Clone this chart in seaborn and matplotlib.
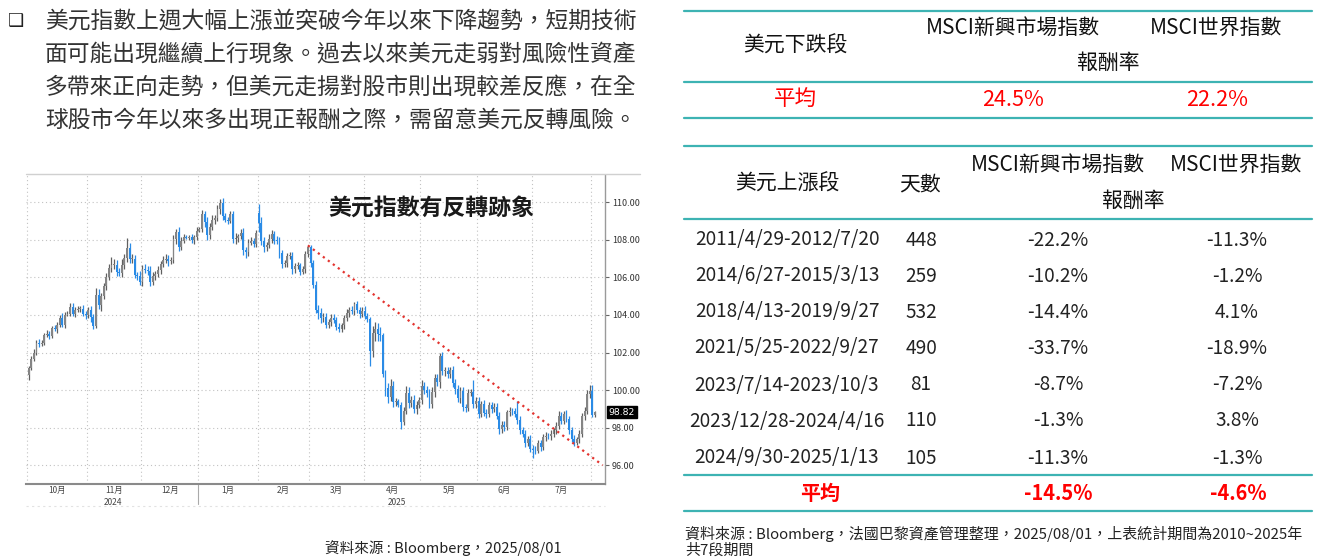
import numpy as np
import pandas as pd
import matplotlib
matplotlib.use("Agg")
import matplotlib.pyplot as plt
from matplotlib.lines import Line2D
from matplotlib.ticker import FormatStrFormatter
import seaborn as sns

# ---- 美元指數 日K 2024/10/01 ~ 2025/08/04 (收盤, 由圖估讀) ----
close = [
    # 10月
    101.19, 101.68, 101.99, 102.52, 102.47, 102.53, 102.92, 102.99, 102.90, 103.29,
    103.24, 103.49, 103.83, 103.49, 104.02, 104.07, 104.41, 104.06, 104.26, 104.32,
    104.33, 104.07, 103.99,
    # 11月
    104.28, 103.90, 103.43, 105.08, 104.51, 104.99, 105.53, 106.01, 106.48, 106.68,
    106.68, 106.28, 106.21, 106.68, 107.01, 107.55, 106.99, 107.00, 106.12, 106.08,
    105.74,
    # 12月
    106.44, 106.38, 106.35, 105.73, 106.06, 106.17, 106.40, 106.70, 106.95, 107.00,
    106.85, 106.95, 108.05, 108.40, 107.62, 107.95, 108.15, 108.12, 108.13, 108.00,
    108.13, 108.49,
    # 1月
    108.60, 109.39, 108.95, 108.26, 108.68, 109.05, 109.17, 109.65, 109.97, 109.25,
    109.08, 109.02, 109.35, 108.05, 108.08, 108.18, 108.38, 107.45, 107.35, 107.85,
    107.92, 107.80, 108.37,
    # 2月
    108.92, 107.95, 107.60, 107.72, 108.04, 108.32, 107.96, 107.94, 107.30, 106.71,
    106.75, 107.14, 107.16, 106.43, 106.62, 106.64, 106.31, 106.42, 107.24, 107.61,
    # 3月
    106.76, 105.60, 104.28, 104.09, 103.84, 103.90, 103.48, 103.61, 103.83, 103.72,
    103.38, 103.25, 103.44, 103.85, 104.09, 104.26, 104.22, 104.56, 104.28, 104.04,
    104.21,
    # 4月
    103.93, 103.80, 102.07, 103.02, 103.26, 102.98, 102.92, 100.88, 100.10, 99.63,
    100.23, 99.37, 99.40, 99.23, 98.28, 98.91, 99.85, 99.32, 99.47, 98.99,
    99.21, 99.47,
    # 5月
    100.24, 100.03, 99.83, 99.24, 99.90, 100.64, 100.42, 101.79, 101.00, 101.02,
    100.85, 101.09, 100.37, 100.05, 99.56, 99.95, 99.11, 99.05, 99.87, 99.88,
    99.27, 99.44,
    # 6月
    98.70, 99.24, 98.80, 98.74, 99.19, 98.98, 99.10, 98.64, 97.92, 98.15,
    98.03, 98.81, 98.91, 98.86, 98.71, 98.42, 97.86, 97.67, 97.19, 97.40,
    96.88,
    # 7月
    96.80, 96.78, 97.18, 96.97, 97.48, 97.55, 97.53, 97.65, 97.85, 98.08,
    98.62, 98.38, 98.73, 98.47, 97.86, 97.40, 97.20, 97.37, 97.65, 98.63,
    98.88, 99.80, 99.97,
    # 8月
    98.69, 98.82,
]

# 開盤 = 前一日收盤 (美元指數近 24 小時交易), 跳空的日子另記
first_open = 100.78
open_gaps = {"2025-02-03": 109.45}

# 上影線 / 下影線長度
wick_hi = [
    .10, .15, .20, .12, .18, .15, .10, .20, .15, .12, .20, .15, .18, .25, .12, .15, .20, .25, .15, .18, .12, .20, .15,
    .15, .20, .15, .35, .30, .20, .15, .20, .25, .39, .30, .25, .20, .30, .25, .52, .30, .25, .20, .15, .25,
    .20, .25, .20, .25, .20, .15, .20, .15, .20, .25, .20, .15, .20, .15, .30, .20, .15, .10, .15, .20, .15, .20,
    .10, .20, .15, .25, .20, .25, .15, .20, .20, .25, .20, .15, .20, .20, .30, .15, .20, .25, .15, .20, .25, .20, .15,
    .43, .30, .20, .15, .25, .20, .15, .25, .20, .15, .20, .15, .20, .20, .15, .20, .15, .20, .15, .10,
    .10, .15, .20, .25, .30, .20, .20, .15, .20, .20, .15, .20, .15, .15, .20, .15, .20, .15, .20, .15, .20,
    .25, .20, .10, .40, .35, .30, .40, .10, .20, .30, .35, .25, .20, .15, .15, .20, .35, .30, .20, .25, .20, .15,
    .30, .20, .20, .25, .25, .20, .20, .20, .25, .20, .20, .15, .20, .20, .20, .20, .20, .15, .20, .20, .66, .20,
    .20, .20, .25, .20, .15, .20, .20, .20, .20, .20, .20, .15, .20, .15, .20, .71, .20, .20, .20, .15, .20,
    .20, .20, .15, .15, .20, .20, .15, .20, .15, .20, .25, .20, .15, .20, .15, .20, .20, .15, .20, .15, .20, .20, .30,
    .29, .08,
]
wick_lo = [
    .25, .12, .15, .10, .18, .12, .15, .10, .20, .15, .10, .18, .12, .15, .20, .10, .15, .12, .18, .10, .15, .12, .20,
    .15, .25, .20, .10, .20, .30, .15, .20, .15, .20, .25, .20, .15, .20, .25, .20, .20, .25, .15, .20, .15,
    .20, .15, .20, .20, .15, .20, .15, .20, .15, .20, .25, .15, .20, .25, .20, .15, .10, .10, .15, .15, .20, .15,
    .10, .20, .25, .25, .20, .15, .20, .15, .25, .20, .15, .20, .15, .20, .25, .20, .15, .25, .30, .20, .15, .20, .20,
    .50, .20, .25, .20, .15, .20, .20, .15, .25, .20, .15, .20, .15, .25, .20, .15, .20, .15, .20, .15,
    .20, .15, .20, .30, .25, .20, .20, .15, .20, .15, .20, .15, .15, .20, .15, .20, .15, .20, .15, .20, .15,
    .15, .20, .80, .30, .40, .35, .30, .20, .40, .30, .20, .25, .20, .15, .36, .15, .20, .25, .20, .20, .25, .15,
    .20, .25, .20, .20, .20, .25, .20, .30, .20, .25, .20, .20, .20, .25, .20, .25, .20, .20, .15, .20, .20, .20,
    .20, .15, .20, .20, .15, .20, .15, .20, .25, .20, .20, .15, .20, .20, .15, .20, .20, .15, .20, .15, .20,
    .42, .20, .15, .20, .15, .20, .15, .20, .15, .20, .15, .20, .20, .15, .20, .15, .20, .15, .20, .15, .20, .15, .20,
    .10, .10,
]

# 下降趨勢線 (日期, 指數)
trend_dates = ["2025-02-28", "2025-08-07"]
trend_vals = [107.7, 96.0]

y_ticks = [96, 98, 100, 102, 104, 106, 108, 110]

# ---- 表格 ----
down_head = ["美元下跌段", "MSCI新興市場指數", "MSCI世界指數", "報酬率"]
down_avg = ["平均", "24.5%", "22.2%"]

up_head = ["美元上漲段", "天數", "MSCI新興市場指數", "MSCI世界指數", "報酬率"]
periods = ["2011/4/29-2012/7/20", "2014/6/27-2015/3/13", "2018/4/13-2019/9/27",
           "2021/5/25-2022/9/27", "2023/7/14-2023/10/3", "2023/12/28-2024/4/16",
           "2024/9/30-2025/1/13"]
days = [448, 259, 532, 490, 81, 110, 105]
em_ret = ["-22.2%", "-10.2%", "-14.4%", "-33.7%", "-8.7%", "-1.3%", "-11.3%"]
world_ret = ["-11.3%", "-1.2%", "4.1%", "-18.9%", "-7.2%", "3.8%", "-1.3%"]
up_avg = ["平均", "-14.5%", "-4.6%"]

para = ["美元指數上週大幅上漲並突破今年以來下降趨勢，短期技術",
        "面可能出現繼續上行現象。過去以來美元走弱對風險性資產",
        "多帶來正向走勢，但美元走揚對股市則出現較差反應，在全",
        "球股市今年以來多出現正報酬之際，需留意美元反轉風險。"]

# ---------------------------------------------------------------
sns.set_theme(style="white")
plt.rcParams['font.family'] = ['Noto Sans CJK TC', 'DejaVu Sans']

W, H = 1319, 560
fig = plt.figure(figsize=(W / 100, H / 100), dpi=100)


def fx(x):
    return x / W


def fy(y):
    return 1 - y / H


dates = pd.bdate_range("2024-10-01", "2025-08-04")
assert len(dates) == len(close) == len(wick_hi) == len(wick_lo)

c = np.array(close)
o = np.r_[first_open, c[:-1]]
for d, v in open_gaps.items():
    o[dates.get_loc(pd.Timestamp(d))] = v
hi = np.maximum(o, c) + np.array(wick_hi)
lo = np.minimum(o, c) - np.array(wick_lo)
up = c >= o
x = np.arange(len(c))

# ---- 左側文字 ----
fig.text(fx(8), fy(21), "❑", fontsize=13, family=['DejaVu Sans'], va='center', color='#222')
for i, line in enumerate(para):
    fig.text(fx(45), fy(21 + i * 33), line, fontsize=16.4, va='center', color='#333')

# ---- K線圖 ----
ax = fig.add_axes([fx(26), fy(484), fx(605) - fx(26), fy(175) - fy(484)])
GRAY, BLUE = '#858585', '#2a8be6'
ax.vlines(x, lo, hi, colors=np.where(up, '#606060', BLUE), lw=0.9, zorder=3)
ax.bar(x, np.maximum(np.abs(c - o), 0.05), bottom=np.minimum(o, c), width=0.72,
       color=np.where(up, GRAY, BLUE), lw=0, zorder=4)

t_idx = [np.busday_count("2024-10-01", d) for d in trend_dates]
sns.lineplot(x=t_idx, y=trend_vals, ax=ax, color='#e3342f', lw=1.6,
             linestyle=(0, (1, 1.8)), zorder=5)

ax.set_xlim(-1.05, 222.9)
ax.set_ylim(95.0, 111.45)

# 月份
month_key = dates.to_period('M')
bounds, mids, labels = [], [], []
for per in month_key.unique():
    idx = np.where(month_key == per)[0]
    bounds.append(idx[0] - 0.5)
    if len(idx) > 5:
        mids.append((idx[0] + idx[-1]) / 2)
        labels.append(f"{per.month}月")
ax.set_xticks(mids)
ax.set_xticklabels(labels)
ax.set_xticks(bounds, minor=True)
ax.tick_params(axis='x', which='major', length=0, labelsize=6, labelcolor='#444', pad=1.5)
ax.tick_params(axis='x', which='minor', length=3, width=1, color='#444', direction='out')

ax.yaxis.tick_right()
ax.set_yticks(y_ticks)
ax.yaxis.set_major_formatter(FormatStrFormatter('%.2f'))
ax.tick_params(axis='y', length=3, width=0.8, color='#666', labelsize=6.5,
               labelcolor='#333', pad=2, direction='out')

ax.grid(False)
for b in bounds:
    ax.axvline(b, color='#c2c2c2', lw=0.8, linestyle=(0, (1, 2.5)), zorder=1)
for yv in y_ticks:
    ax.axhline(yv, color='#c2c2c2', lw=0.8, linestyle=(0, (1, 2.5)), zorder=1)

for s in ['left', 'top']:
    ax.spines[s].set_visible(False)
ax.spines['right'].set_color('#9a9a9a')
ax.spines['right'].set_linewidth(1)
ax.spines['bottom'].set_color('#8a8a8a')
ax.spines['bottom'].set_linewidth(1.5)

# 年份
years = dates.year
for yr in np.unique(years):
    idx = np.where(years == yr)[0]
    ax.text((idx[0] + idx[-1]) / 2, -0.06, str(yr), transform=ax.get_xaxis_transform(),
            ha='center', va='center', fontsize=6, color='#444')
jan = np.where(years == 2025)[0][0] - 0.5
ax.plot([jan, jan], [0, -0.065], transform=ax.get_xaxis_transform(), color='#aaaaaa',
        lw=0.8, clip_on=False)

# 最新值
ax.text(1.006, c[-1], f"{c[-1]:.2f}", transform=ax.get_yaxis_transform(), ha='left',
        va='center', fontsize=6.7, color='white', family=['DejaVu Sans'],
        bbox=dict(boxstyle='square,pad=0.18', fc='black', ec='black'))

fig.add_artist(Line2D([fx(26), fx(640)], [fy(174), fy(174)], color='#d0d0d0', lw=1))
fig.add_artist(Line2D([fx(26), fx(605)], [fy(506), fy(506)], color='#e2e2e2', lw=0.8,
                      linestyle=(0, (2, 3))))

ax.text(0.70, 0.893, "美元指數有反轉跡象", transform=ax.transAxes, ha='center', va='center',
        fontsize=16.5, fontweight='bold', color='#1a1a1a')

fig.text(fx(443), fy(548), "資料來源 : Bloomberg，2025/08/01", ha='center', va='center',
         fontsize=10.5, color='#222')

# ---- 右側表格 ----
TEAL = '#3db3b3'


def hline(y):
    fig.add_artist(Line2D([fx(684), fx(1312)], [fy(y), fy(y)], color=TEAL, lw=1.6))


for yl in [11, 82, 118, 146, 219, 475, 511]:
    hline(yl)

TXT = '#111111'
HS = 15
fig.text(fx(795), fy(46), down_head[0], ha='center', va='center', fontsize=HS, color=TXT)
fig.text(fx(1013), fy(28), down_head[1], ha='center', va='center', fontsize=HS, color=TXT)
fig.text(fx(1216), fy(28), down_head[2], ha='center', va='center', fontsize=HS, color=TXT)
fig.text(fx(1108), fy(63), down_head[3], ha='center', va='center', fontsize=HS, color=TXT)
for xx, t in zip([795, 1013, 1217], down_avg):
    fig.text(fx(xx), fy(100), t, ha='center', va='center', fontsize=15.5, color='#ff0000')

fig.text(fx(787), fy(184), up_head[0], ha='center', va='center', fontsize=HS, color=TXT)
fig.text(fx(920), fy(184), up_head[1], ha='center', va='center', fontsize=HS, color=TXT)
fig.text(fx(1058), fy(165), up_head[2], ha='center', va='center', fontsize=HS, color=TXT)
fig.text(fx(1236), fy(165), up_head[3], ha='center', va='center', fontsize=HS, color=TXT)
fig.text(fx(1133), fy(201), up_head[4], ha='center', va='center', fontsize=HS, color=TXT)

row_y = [240, 276, 312, 348, 385, 421, 458]
RS = 13.7
for ry, p, d, e, w in zip(row_y, periods, days, em_ret, world_ret):
    fig.text(fx(787), fy(ry), p, ha='center', va='center', fontsize=RS, color='#222')
    fig.text(fx(921), fy(ry), str(d), ha='center', va='center', fontsize=RS, color='#222')
    fig.text(fx(1058), fy(ry), e, ha='center', va='center', fontsize=RS, color='#222')
    fig.text(fx(1237), fy(ry), w, ha='center', va='center', fontsize=RS, color='#222')

for xx, t in zip([820, 1058, 1238], up_avg):
    fig.text(fx(xx), fy(493), t, ha='center', va='center', fontsize=14.4, fontweight='bold',
             color='#ff0000')

fig.text(fx(685), fy(534), "資料來源 : Bloomberg，法國巴黎資產管理整理，2025/08/01，上表統計期間為2010~2025年",
         ha='left', va='center', fontsize=10.8, color='#222')
fig.text(fx(685), fy(551), "共7段期間", ha='left', va='center', fontsize=10.8, color='#222')

fig.savefig("out.png", dpi=100)
